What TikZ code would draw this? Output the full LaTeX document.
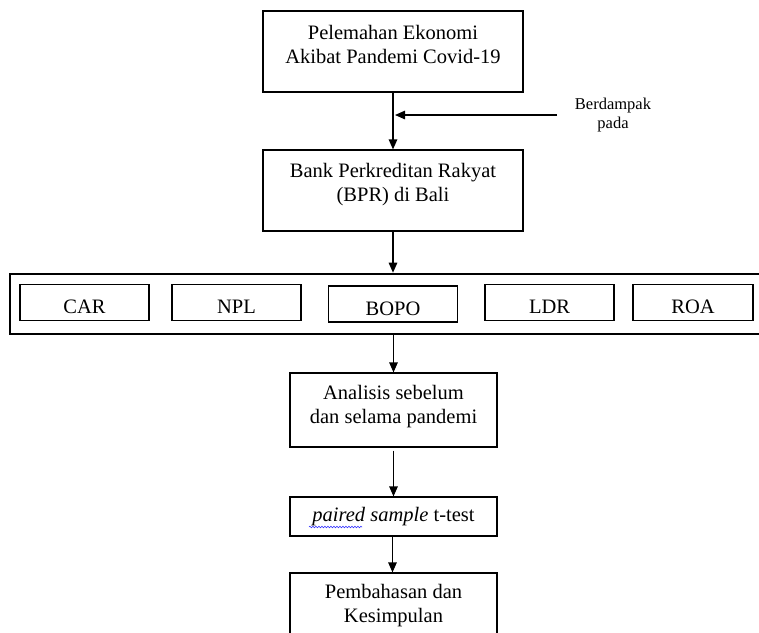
\documentclass[tikz,border=0pt]{standalone}
\usepackage{fontspec}
\setmainfont{Liberation Serif}
\usetikzlibrary{arrows.meta,decorations.pathmorphing}
\begin{document}
\begin{tikzpicture}[x=1pt,y=-1pt,
  box/.style={draw,line width=1.2pt,inner sep=0pt},
  cell/.style={box,minimum width=129pt,minimum height=36pt},
  arr/.style={line width=1.2pt,-{Triangle[length=10pt,width=8.5pt]}},
  txt/.style={font=\fontsize{20.5}{24}\selectfont,align=center,inner sep=0pt},
  small/.style={font=\fontsize{16.5}{19.5}\selectfont,align=center,inner sep=0pt}]
\useasboundingbox (0,0) rectangle (759,632);
\clip (0,0) rectangle (759,632);
% top boxes
\node[box,minimum width=260pt,minimum height=81pt] (b1) at (393,51.5) {};
\node[txt] (t1) at (393,44.5) {Pelemahan Ekonomi\\Akibat Pandemi Covid-19};
\node[box,minimum width=260pt,minimum height=81pt] (b2) at (393,190.5) {};
\node[txt] (t2) at (393,184.5) {Bank Perkreditan Rakyat\\(BPR) di Bali};
\coordinate (side) at (557,115);
\coordinate (sidetip) at (395,115);
\node[small] (lab) at (613,115) {Berdampak\\pada};
% frame
\node[draw,line width=2.6pt,minimum width=790pt,minimum height=60pt,inner sep=0pt] (frame) at (405,304) {};
\node[cell] (car) at (84.5,302.5) {};
\node[cell] (npl) at (236.5,302.5) {};
\node[cell] (bopo) at (393,304) {};
\node[cell] (ldr) at (549.5,302.5) {};
\node[box,minimum width=120pt,minimum height=36pt] (roa) at (693,302.5) {};
\node[txt] (tcar) at (84.5,307) {CAR};
\node[txt] (tnpl) at (236.5,307) {NPL};
\node[txt] (tbopo) at (393,309) {BOPO};
\node[txt] (tldr) at (549.5,306.5) {LDR};
\node[txt] (troa) at (693,306.5) {ROA};
% lower boxes
\node[box,minimum width=207pt,minimum height=74pt] (b3) at (393.5,410) {};
\node[txt] (t3) at (393.5,406.5) {Analisis sebelum\\dan selama pandemi};
\node[box,minimum width=207pt,minimum height=39pt,txt] (b4) at (393.5,516.5) {\textit{paired sample} t-test};
\node[box,minimum width=207pt,minimum height=80pt] (b5) at (393.5,613) {};
\node[txt] (t5) at (393.5,605.5) {Pembahasan dan\\Kesimpulan};
% wavy spell-check underline
\coordinate (w1) at (309,527);
\coordinate (w2) at (362,527);
\draw[blue!80,line width=0.6pt,decorate,decoration={snake,amplitude=0.8pt,segment length=3pt}] (w1) -- (w2);
% arrows
\draw[arr] (b1.south) -- (b2.north);
\draw[arr] (side) -- (sidetip);
\draw[arr] (b2.south) -- (frame.north -| b2.south);
\draw[arr] (frame.south -| b3.north) -- (b3.north);
\draw[arr] ([yshift=-3pt]b3.south) -- (b4.north);
\draw[arr] ([xshift=-1pt]b4.south) -- ([xshift=-1pt]b5.north);
\end{tikzpicture}
\end{document}
